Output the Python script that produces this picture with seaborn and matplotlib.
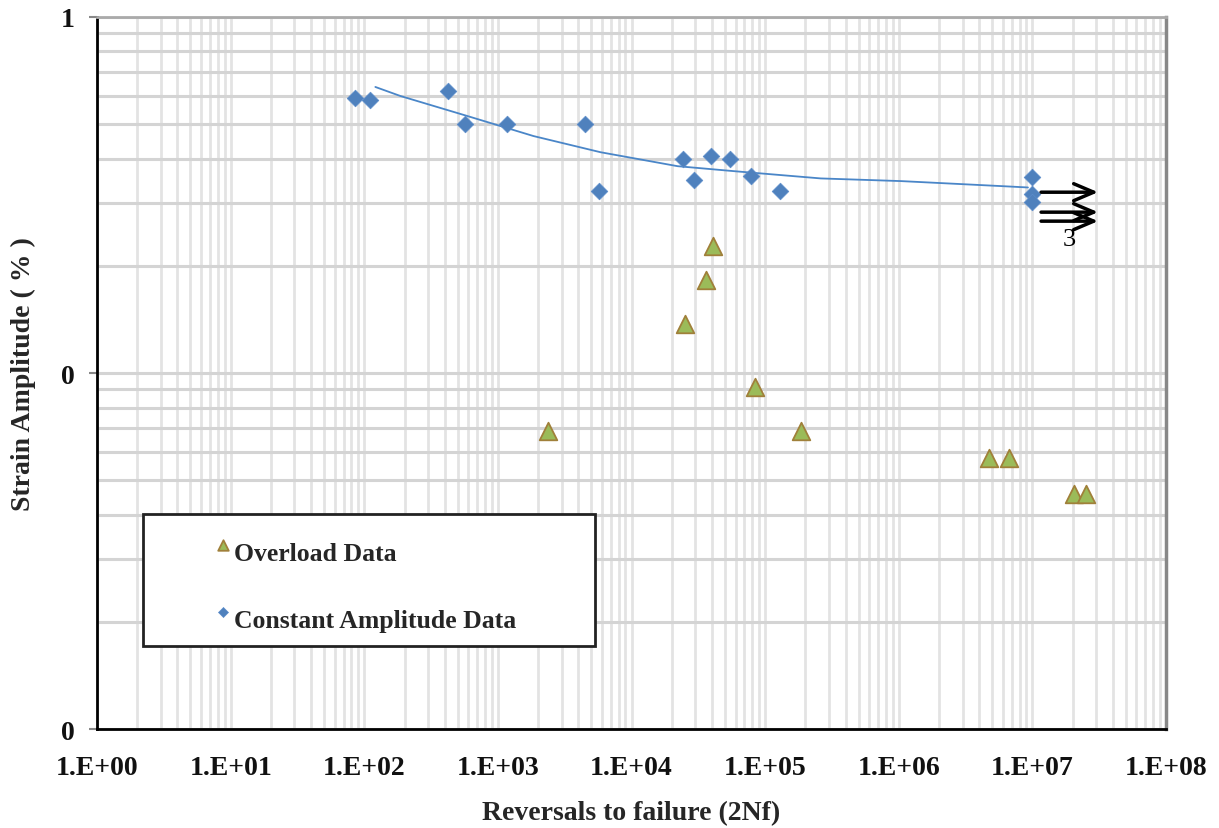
import matplotlib
matplotlib.use("Agg")
import matplotlib.pyplot as plt
import matplotlib.ticker as mticker
from matplotlib.patches import Rectangle
import seaborn as sns
import pandas as pd

# --- data ---
overload_n = [2390, 24950, 35800, 40400, 83400, 184500, 4.72e6, 6.67e6, 2.05e7, 2.51e7]
overload_strain = [0.0685, 0.137, 0.183, 0.228, 0.0916, 0.0685, 0.0578, 0.0578, 0.0458, 0.0458]

const_n = [85.6, 111, 426, 571, 1178, 4446, 5660, 24100, 29100, 39000, 54200, 77900,
           128500, 1.0e7, 1.0e7, 1.0e7]
const_strain = [0.592, 0.584, 0.619, 0.50, 0.50, 0.50, 0.324, 0.40, 0.348, 0.406, 0.40,
                0.357, 0.324, 0.355, 0.318, 0.302]

# trend line
trend_n = [121, 186, 591, 1845, 5860, 22100, 58100, 260600, 1.035e6, 5.8e6, 9.25e6]
trend_strain = [0.636, 0.600, 0.527, 0.463, 0.417, 0.381, 0.369, 0.352, 0.346, 0.335, 0.332]

# run-out arrows (start, end, strain) and their count label
runout_start = [1.16e7, 1.16e7, 1.16e7]
runout_end = [3.1e7, 3.1e7, 3.1e7]
runout_strain = [0.322, 0.283, 0.267]
runout_label = "3"
runout_label_pos = (1.88e7, 0.238)

x_ticks = [1e0, 1e1, 1e2, 1e3, 1e4, 1e5, 1e6, 1e7, 1e8]
x_ticklabels = ["1.E+00", "1.E+01", "1.E+02", "1.E+03", "1.E+04", "1.E+05",
                "1.E+06", "1.E+07", "1.E+08"]
y_ticks = [0.01, 0.1, 1]
y_ticklabels = ["0", "0", "1"]

overload_df = pd.DataFrame({"n": overload_n, "strain": overload_strain})
const_df = pd.DataFrame({"n": const_n, "strain": const_strain})
trend_df = pd.DataFrame({"n": trend_n, "strain": trend_strain})

sns.set_theme(style="white")
plt.rcParams["font.family"] = ["Liberation Serif", "DejaVu Serif"]
plt.rcParams["font.weight"] = "bold"

fig = plt.figure(figsize=(12.19, 8.29), dpi=100)
ax = fig.add_axes([0.0796, 0.1194, 0.877, 0.8589])

sns.lineplot(data=trend_df, x="n", y="strain", ax=ax, color="#4A86C8", linewidth=1.3,
             sort=False, estimator=None, zorder=3)
sns.scatterplot(data=const_df, x="n", y="strain", ax=ax, marker="D", s=72,
                color="#4F81BD", edgecolor="#5B8CCB", linewidth=0.5, zorder=4,
                label="Constant Amplitude Data")
sns.scatterplot(data=overload_df, x="n", y="strain", ax=ax, marker="^", s=160,
                color="#9BBB59", edgecolor="#A0803A", linewidth=1.3, zorder=4,
                label="Overload Data")

ax.set_xscale("log")
ax.set_yscale("log")
ax.set_xlim(1, 1e8)
ax.set_ylim(0.01, 1)

ax.set_xticks(x_ticks)
ax.set_xticklabels(x_ticklabels)
ax.set_yticks(y_ticks)
ax.set_yticklabels(y_ticklabels)
ax.xaxis.set_minor_locator(mticker.LogLocator(base=10, subs=range(2, 10), numticks=100))
ax.yaxis.set_minor_locator(mticker.LogLocator(base=10, subs=range(2, 10), numticks=100))
ax.xaxis.set_minor_formatter(mticker.NullFormatter())
ax.yaxis.set_minor_formatter(mticker.NullFormatter())

ax.set_axisbelow(True)
ax.grid(which="both", axis="x", color="#e3e3e3", linewidth=2)
ax.grid(which="both", axis="y", color="#d4d4d4", linewidth=2.2)

ax.tick_params(axis="x", which="both", length=0, labelsize=20, pad=19, colors="#111111")
ax.tick_params(axis="y", which="major", length=6, width=1.5, color="#888888",
               labelsize=20, pad=10, labelcolor="#111111", left=True)
ax.tick_params(axis="y", which="minor", length=0)

for side in ["left", "bottom"]:
    ax.spines[side].set_color("black")
    ax.spines[side].set_linewidth(2)
ax.spines["top"].set_color("#aaaaaa")
ax.spines["top"].set_linewidth(2)
ax.spines["right"].set_color("#888888")
ax.spines["right"].set_linewidth(2.5)

ax.set_xlabel("Reversals to failure (2Nf)", fontsize=20, fontweight="bold", labelpad=14)
ax.set_ylabel("Strain Amplitude ( % )", fontsize=20, fontweight="bold", labelpad=18)

# run-out arrows
for x0, x1, yv in zip(runout_start, runout_end, runout_strain):
    ax.annotate("", xy=(x1, yv), xytext=(x0, yv),
                arrowprops=dict(arrowstyle="->, head_length=0.4, head_width=0.17",
                                mutation_scale=36, lw=2.5, color="black",
                                shrinkA=0, shrinkB=0), zorder=5)
ax.text(runout_label_pos[0], runout_label_pos[1], runout_label, fontsize=19,
        fontweight="normal", ha="center", va="center", color="black")

# legend: separate frame box, entries placed inside it
ax.add_patch(Rectangle((0.043, 0.117), 0.423, 0.185, transform=ax.transAxes,
                       facecolor="white", edgecolor="#222222", linewidth=2, zorder=4.5))
handles, labels = ax.get_legend_handles_labels()
order = [labels.index("Overload Data"), labels.index("Constant Amplitude Data")]
leg = ax.legend([handles[i] for i in order], [labels[i] for i in order],
                loc="upper left", bbox_to_anchor=(0.110, 0.262), borderaxespad=0,
                frameon=False,
                prop={"family": ["Liberation Serif"], "weight": "bold", "size": 18.5},
                markerscale=0.6, handlelength=0.65, handletextpad=0.1,
                labelspacing=1.71, borderpad=0, scatteryoffsets=[0.85])
leg.set_zorder(6)

fig.savefig("out.png", dpi=100)
